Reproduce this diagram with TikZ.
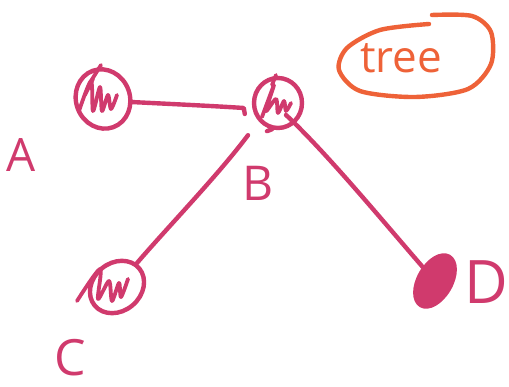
\documentclass[tikz,border=0pt]{standalone}
\usepackage{fontspec}
\setmainfont{Open Sans}
\usetikzlibrary{shapes.geometric,calc}
\definecolor{ink}{HTML}{D03A6D}
\definecolor{ornge}{HTML}{EE6238}
\begin{document}
\begin{tikzpicture}[x=1pt,y=-1pt,line cap=round,line join=round,
  pen/.style={draw=ink,line width=4.4pt},
  vert/.style={ellipse,draw=ink,line width=4.4pt,inner sep=0pt},
  scrib/.style={draw=ink,line width=3.8pt},
  lbl/.style={text=ink,inner sep=0pt,font=\fontsize{#1}{#1}\selectfont},
  lbl/.default=46]
\useasboundingbox (0,0) rectangle (509,387);
% vertices
\node[vert,minimum width=54pt,minimum height=60pt,rotate=20] (A) at (103,99) {};
\node[vert,minimum width=48pt,minimum height=50pt] (B) at (278,103) {};
\node[vert,minimum width=58pt,minimum height=48pt,rotate=40] (C) at (117,287) {};
\node[vert,fill=ink,minimum width=56pt,minimum height=32pt,rotate=60] (D) at (435,281) {};
% scribbles
\draw[scrib] plot[smooth] coordinates {($(A)+(-24,12)$) ($(A)+(-12,-18)$) ($(A)+(-10,12)$) ($(A)+(-3,-12)$) ($(A)+(-1,12)$) ($(A)+(5,-4)$) ($(A)+(8,10)$) ($(A)+(14,-4)$)};
\draw[scrib] ($(A)+(-12,-18)$) -- ($(A)+(-2,-34)$);
\draw[scrib] ($(A)+(-18,-4)$) -- ($(A)+(-10,-20)$);
\draw[scrib] plot[smooth] coordinates {($(B)+(-16,14)$) ($(B)+(-4,-18)$) ($(B)+(-12,8)$) ($(B)+(-2,-4)$) ($(B)+(0,10)$) ($(B)+(6,-2)$) ($(B)+(8,8)$) ($(B)+(13,0)$)};
\draw[scrib] ($(B)+(-6,-18)$) -- ($(B)+(-2,-28)$);
\draw[scrib] plot[smooth] coordinates {($(C)+(-40,14)$) ($(C)+(-17,-18)$) ($(C)+(-19,12)$) ($(C)+(-8,-6)$) ($(C)+(-5,14)$) ($(C)+(2,-4)$) ($(C)+(4,10)$) ($(C)+(11,-8)$)};
% edges
\draw[pen] ($(A)+(28,3)$) .. controls +(40,2) and +(-30,-2) .. ([shift={(-8,5)}]B.west) -- ++(1,6);
\draw[pen] ([shift={(-6,-1)}]B.south) -- ++(-5,2);
\draw[pen] ([shift={(-30,5)}]B.south) .. controls +(-30,40) and +(30,-35) .. ([shift={(20,-24)}]C.center);
\draw[pen] ([shift={(8,12)}]B.center) .. controls +(45,42) and +(-40,-45) .. (D.center);
% labels
\node[lbl=46] (la) at (21,155) {A};
\node[lbl=48] (lb) at (258,183) {B};
\node[lbl=50] (lc) at (70,358) {C};
\node[lbl=60] (ld) at (486,282) {D};
% tree
\node[text=ornge,inner sep=0pt,font=\fontsize{44}{44}\selectfont] (tree) at (401,58) {tree};
\draw[draw=ornge,line width=4.4pt] plot[smooth] coordinates {(429,24) (380,30) (347,48) (339,70) (360,91) (415,97) (468,89) (491,64) (491,32) (472,16) (432,15)};
\end{tikzpicture}
\end{document}
